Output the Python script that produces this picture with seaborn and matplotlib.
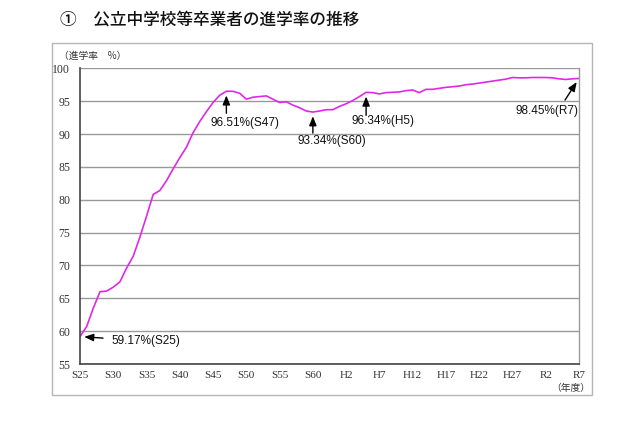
import matplotlib
matplotlib.use("Agg")
import matplotlib.pyplot as plt
import seaborn as sns
import pandas as pd
from matplotlib.patches import Rectangle

# ---- data ----
years = list(range(1950, 2026))
rates = [
    59.17, 60.7, 63.5, 66.0, 66.1, 66.7, 67.5, 69.6, 71.4, 74.3,   # 1950-1959
    77.5, 80.8, 81.4, 82.9, 84.7, 86.4, 88.0, 90.2, 91.9, 93.4,    # 1960-1969
    94.8, 95.9, 96.51, 96.5, 96.2, 95.3, 95.6, 95.7, 95.8, 95.3,   # 1970-1979
    94.8, 94.9, 94.4, 94.0, 93.5, 93.34, 93.5, 93.7, 93.7, 94.2,   # 1980-1989
    94.6, 95.1, 95.7, 96.34, 96.3, 96.1, 96.3, 96.35, 96.4, 96.6,  # 1990-1999
    96.7, 96.3, 96.8, 96.8, 96.95, 97.1, 97.2, 97.3, 97.5, 97.6,   # 2000-2009
    97.75, 97.9, 98.05, 98.2, 98.35, 98.6, 98.55, 98.55, 98.6, 98.6,  # 2010-2019
    98.6, 98.55, 98.4, 98.3, 98.4, 98.45,                          # 2020-2025
]
tick_years = list(range(1950, 2026, 5))
tick_labels = ["S25", "S30", "S35", "S40", "S45", "S50", "S55", "S60",
               "H2", "H7", "H12", "H17", "H22", "H27", "R2", "R7"]
y_ticks = list(range(55, 101, 5))

# annotated points: (year, label, arrow tail offset px, text offset px, ha)
notes = [
    (1950, "59.17%(S25)", (23, -1.5), (31, -4.5), "left"),
    (1972, "96.51%(S47)", (0, -22), (18.6, -31.6), "center"),
    (1985, "93.34%(S60)", (0, -21), (18.7, -28.8), "center"),
    (1993, "96.34%(H5)", (0, -23), (17.3, -28.5), "center"),
    (2025, "98.45%(R7)", (-14, -21.6), (-32, -32.6), "center"),
]

title = "①　公立中学校等卒業者の進学率の推移"

df = pd.DataFrame({"year": years, "rate": rates})

sns.set_style("white")
plt.rcParams["font.family"] = ["Noto Sans CJK JP", "DejaVu Sans"]

fig = plt.figure(figsize=(6.4, 4.26), dpi=100)
ax = fig.add_axes([80 / 640, 1 - 364 / 426, (579 - 80) / 640, (364 - 68.3) / 426])

# outer chart border
fig.patches.append(Rectangle((52 / 640, 1 - 395 / 426), 540 / 640, (395 - 42.7) / 426,
                             transform=fig.transFigure, fill=False,
                             edgecolor="#b5b5b5", linewidth=1.0))

sns.lineplot(data=df, x="year", y="rate", ax=ax, color="#E028E6", linewidth=1.2)

ax.set_xlim(1950, 2025)
ax.set_ylim(55, 100)
ax.set_xticks(tick_years)
ax.set_xticklabels(tick_labels, family="Liberation Serif", fontsize=8, color="#333333")
ax.set_yticks(y_ticks)
ax.set_yticklabels([str(v) for v in y_ticks], family="Liberation Serif", fontsize=8.5,
                   color="#333333")
ax.set_xlabel("")
ax.set_ylabel("")
ax.yaxis.grid(True, color="#9a9a9a", linewidth=1.0)
ax.xaxis.grid(False)
ax.tick_params(axis="x", direction="in", length=3, width=0.8, color="#555555", pad=5)
ax.tick_params(axis="y", length=0, pad=7)
for s in ["left", "bottom"]:
    ax.spines[s].set_color("#444444")
    ax.spines[s].set_linewidth(1.2)
ax.spines["right"].set_color("#9a9a9a")
ax.spines["right"].set_linewidth(1.0)
ax.spines["top"].set_visible(False)

for yr, lab, tail, toff, ha in notes:
    val = rates[years.index(yr)]
    ax.annotate("", xy=(yr, val), xycoords="data",
                xytext=tail, textcoords="offset pixels",
                arrowprops=dict(arrowstyle="-|>,head_length=0.55,head_width=0.22",
                                color="black", lw=1.0, shrinkA=0, shrinkB=3))
    ax.annotate(lab, xy=(yr, val), xycoords="data",
                xytext=toff, textcoords="offset pixels",
                ha=ha, va="center", fontsize=8.5, family="Liberation Sans",
                color="#111111")

fig.text(60 / 640, 1 - 20 / 426, title, fontsize=12, ha="left", va="center",
         color="#111111", fontweight="medium")
fig.text(59 / 640, 1 - 56 / 426, "（進学率　%）", fontsize=7, ha="left", va="center",
         color="#333333")
fig.text(590 / 640, 1 - 388 / 426, "（年度）", fontsize=7, ha="right", va="center",
         color="#333333")

fig.savefig("out.png", dpi=100)
